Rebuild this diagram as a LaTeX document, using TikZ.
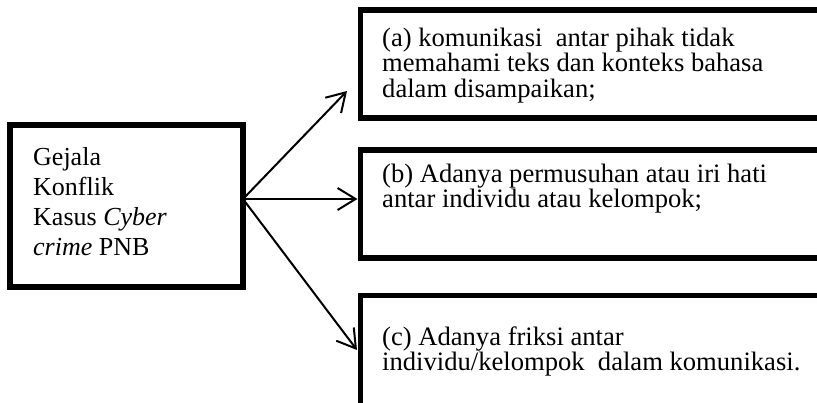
\documentclass[tikz,border=0pt]{standalone}
\usepackage{fontspec}
\setmainfont{Liberation Serif}
\usetikzlibrary{arrows.meta}
\begin{document}
\begin{tikzpicture}[x=1pt,y=-1pt,
  box/.style={draw=black, line width=5.5pt, rectangle, anchor=north west,
    inner sep=0pt, outer sep=0pt},
  txt/.style={anchor=base west, inner sep=0pt, font=\fontsize{26}{25.5}\selectfont},
  rtxt/.style={txt, font=\fontsize{26.6}{25.5}\selectfont},
  link/.style={line width=2pt, -{Straight Barb[length=18pt, width=22pt, line width=2pt]}}]
\useasboundingbox (0,0) rectangle (817,402);
\clip (0,0) rectangle (817,402);

% source box on the left
\node[box, minimum width=233pt, minimum height=162pt] (L) at (10,125) {};
\node[txt] (tl) at (33,165) {\parbox[t]{205pt}{\raggedright\setlength\baselineskip{30pt}%
  Gejala\\ Konflik\\ Kasus \textit{Cyber}\\ \textit{crime} PNB}};

% three symptom boxes, running past the right and bottom edges
\node[box, minimum width=480pt, minimum height=108pt] (A) at (360.5,10) {};
\node[box, minimum width=480pt, minimum height=108pt] (B) at (360.5,150) {};
\node[box, minimum width=480pt, minimum height=140pt] (C) at (360.5,295.5) {};

\node[rtxt] (ta) at (382,46) {\parbox[t]{440pt}{\raggedright\setlength\baselineskip{25.5pt}%
  (a) komunikasi\ \ antar pihak tidak\\ memahami teks dan konteks bahasa\\ dalam disampaikan;}};
\node[rtxt] (tb) at (382,182) {\parbox[t]{440pt}{\raggedright\setlength\baselineskip{25.5pt}%
  (b) Adanya permusuhan atau iri hati\\ antar individu atau kelompok;}};
\node[rtxt] (tc) at (382,345) {\parbox[t]{440pt}{\raggedright\setlength\baselineskip{25.5pt}%
  (c) Adanya friksi antar\\ individu/kelompok\ \ dalam komunikasi.}};

% connectors
\coordinate (src) at ([yshift=7pt]L.east);
\coordinate (tipA) at (347,91);
\coordinate (tipB) at ([xshift=-3pt]src -| B.west);
\coordinate (tipC) at (357,350);
\draw[link] (src) -- (tipA);
\draw[link] (src) -- (tipB);
\draw[link] (src) -- (tipC);
\end{tikzpicture}
\end{document}
